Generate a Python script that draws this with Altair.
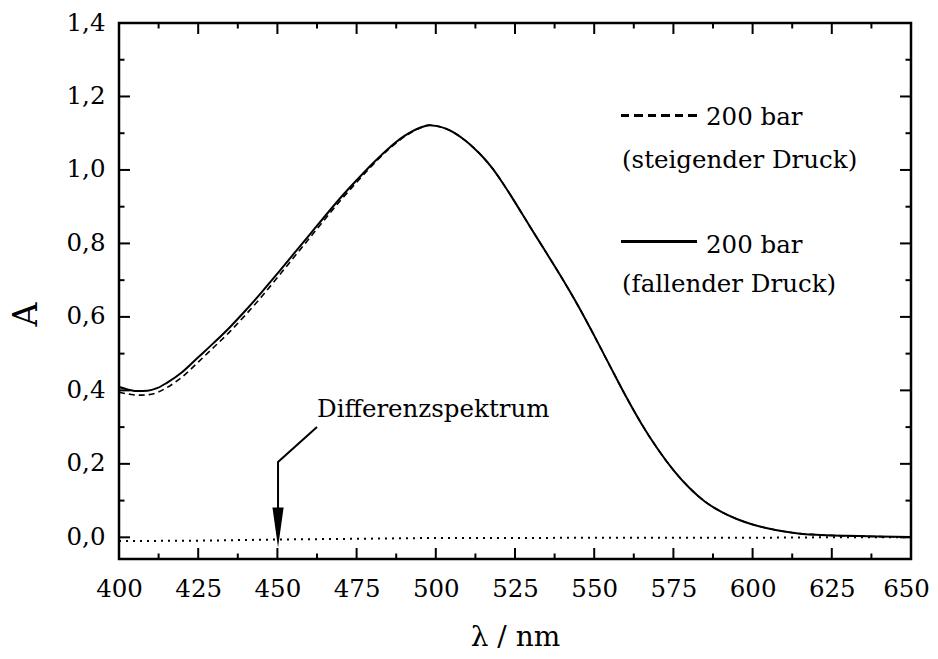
import altair as alt
import pandas as pd

# ---------------- data ----------------
lam_fall = [400, 403, 406, 409, 412, 415, 420, 425, 430, 435, 440, 445, 450, 455, 460, 465,
            470, 475, 480, 485, 490, 495, 498, 500, 503, 506, 509, 512, 515, 518, 521, 524,
            527, 530, 535, 540, 545, 550, 555, 560, 565, 570, 575, 580, 585, 590, 595, 600,
            605, 610, 615, 620, 630, 640, 650]
a_fall = [0.409, 0.402, 0.398, 0.399, 0.406, 0.420, 0.450, 0.490, 0.530, 0.572, 0.618, 0.667,
          0.718, 0.770, 0.822, 0.874, 0.925, 0.972, 1.017, 1.058, 1.092, 1.115, 1.122, 1.120,
          1.113, 1.100, 1.082, 1.060, 1.034, 1.003, 0.966, 0.926, 0.884, 0.842, 0.773, 0.703,
          0.629, 0.549, 0.466, 0.384, 0.308, 0.241, 0.183, 0.135, 0.097, 0.070, 0.050, 0.035,
          0.024, 0.016, 0.010, 0.007, 0.004, 0.002, 0.001]

lam_steig = lam_fall
a_steig = [0.395, 0.390, 0.387, 0.388, 0.394, 0.407, 0.437, 0.477, 0.518, 0.560, 0.606, 0.655,
           0.707, 0.760, 0.813, 0.866, 0.918, 0.966, 1.013, 1.055, 1.090, 1.114, 1.122, 1.120,
           1.113, 1.100, 1.082, 1.060, 1.034, 1.003, 0.966, 0.926, 0.884, 0.842, 0.773, 0.703,
           0.629, 0.549, 0.466, 0.384, 0.308, 0.241, 0.183, 0.135, 0.097, 0.070, 0.050, 0.035,
           0.024, 0.016, 0.010, 0.007, 0.004, 0.002, 0.001]

lam_diff = [400, 425, 450, 475, 500, 525, 550, 575, 600, 625, 650]
a_diff = [-0.010, -0.009, -0.006, -0.004, -0.002, -0.002, -0.001, -0.001, -0.001, 0.000, 0.000]

x_major = [400, 425, 450, 475, 500, 525, 550, 575, 600, 625, 650]
x_minor = [412.5, 437.5, 462.5, 487.5, 512.5, 537.5, 562.5, 587.5, 612.5, 637.5]
y_major = [0.0, 0.2, 0.4, 0.6, 0.8, 1.0, 1.2, 1.4]
y_minor = [0.1, 0.3, 0.5, 0.7, 0.9, 1.1, 1.3]

legend_top = ["200 bar", "(steigender Druck)"]
legend_bottom = ["200 bar", "(fallender Druck)"]

annot_text = "Differenzspektrum"
annot_lam = [462.5]
annot_a = [0.328]
arrow_lam = [462.5, 450.2, 450.2]
arrow_a = [0.300, 0.205, 0.050]
arrow_head_lam = [450.2]
arrow_head_a = [0.027]

# ---------------- layout ----------------
W, H = 792, 536
FONT = "DejaVu Serif"
MAJ, MIN = 11, 5.5
TXT = 24.5
LBL = 24.5

xs = alt.Scale(domain=[400, 650], nice=False, zero=False)
ys = alt.Scale(domain=[-0.059, 1.4], nice=False, zero=False)

x_axis = alt.Axis(values=x_major, title="λ / nm", domain=False, ticks=False, tickSize=0,
                  grid=False, labelFont=FONT, labelFontSize=LBL, labelColor="black",
                  labelPadding=37, labelBaseline="alphabetic", labelOverlap=False,
                  labelFlush=False, labelBound=False,
                  labelOffset=alt.condition("datum.value == 650", alt.value(-5), alt.value(0)),
                  titleFont=FONT, titleFontSize=28, titleFontWeight="normal",
                  titleColor="black", titleBaseline="alphabetic", titleY=86)
y_axis = alt.Axis(values=y_major, title="A", domain=False, ticks=False, tickSize=0,
                  grid=False, labelFont=FONT, labelFontSize=LBL, labelColor="black",
                  labelPadding=14, labelOverlap=False, labelFlush=False, labelBound=False,
                  labelExpr="replace(format(datum.value, '.1f'), '.', ',')",
                  titleFont=FONT, titleFontSize=33, titleFontWeight="normal",
                  titleColor="black", titleAngle=-90, titleBaseline="alphabetic",
                  titleX=-83, titleY=291, titleAlign="center")

X = alt.X("lam:Q", scale=xs, axis=x_axis)
Y = alt.Y("A:Q", scale=ys, axis=y_axis)

df_fall = pd.DataFrame({"lam": lam_fall, "A": a_fall})
df_steig = pd.DataFrame({"lam": lam_steig, "A": a_steig})
df_diff = pd.DataFrame({"lam": lam_diff, "A": a_diff})

solid = alt.Chart(df_fall).mark_line(color="black", strokeWidth=2,
                                     interpolate="monotone").encode(x=X, y=Y)
dashed = alt.Chart(df_steig).mark_line(color="black", strokeWidth=1.6, interpolate="monotone",
                                       strokeDash=[6, 4]).encode(x=X, y=Y)
dotted = alt.Chart(df_diff).mark_line(color="black", strokeWidth=2, interpolate="monotone",
                                      strokeDash=[2, 5]).encode(x=X, y=Y)

dfxM = pd.DataFrame({"lam": x_major})
dfxm = pd.DataFrame({"lam": x_minor})
dfyM = pd.DataFrame({"A": y_major})
dfym = pd.DataFrame({"A": y_minor})

tick = dict(color="black", strokeWidth=2)
ticks = [
    alt.Chart(dfxM).mark_rule(**tick).encode(x=X, y=alt.value(H), y2=alt.value(H - MAJ)),
    alt.Chart(dfxm).mark_rule(**tick).encode(x=X, y=alt.value(H), y2=alt.value(H - MIN)),
    alt.Chart(dfxM).mark_rule(**tick).encode(x=X, y=alt.value(0), y2=alt.value(MAJ)),
    alt.Chart(dfxm).mark_rule(**tick).encode(x=X, y=alt.value(0), y2=alt.value(MIN)),
    alt.Chart(dfyM).mark_rule(**tick).encode(y=Y, x=alt.value(0), x2=alt.value(MAJ)),
    alt.Chart(dfym).mark_rule(**tick).encode(y=Y, x=alt.value(0), x2=alt.value(MIN)),
    alt.Chart(dfyM).mark_rule(**tick).encode(y=Y, x=alt.value(W), x2=alt.value(W - MAJ)),
    alt.Chart(dfym).mark_rule(**tick).encode(y=Y, x=alt.value(W), x2=alt.value(W - MIN)),
]

df_arrow = pd.DataFrame({"lam": arrow_lam, "A": arrow_a, "i": [0, 1, 2]})
arrow = alt.Chart(df_arrow).mark_line(color="black", strokeWidth=2).encode(
    x=X, y=Y, order=alt.Order("i:Q"))
head = alt.Chart(pd.DataFrame({"lam": arrow_head_lam, "A": arrow_head_a})).mark_point(
    shape="M-0.28,-1L0.28,-1L0,1Z", filled=True, size=1600, color="black",
    opacity=1, strokeWidth=0).encode(x=X, y=Y)
annot = alt.Chart(pd.DataFrame({"lam": annot_lam, "A": annot_a, "t": [annot_text]})).mark_text(
    font=FONT, fontSize=TXT, align="left", baseline="alphabetic",
    color="black").encode(x=X, y=Y, text="t:N")

leg_dash = alt.Chart(df_fall).mark_rule(color="black", strokeWidth=1.6,
                                        strokeDash=[8, 5.5]).encode(
    x=alt.value(502), x2=alt.value(578), y=alt.value(92.5))
leg_solid = alt.Chart(df_fall).mark_rule(color="black", strokeWidth=2).encode(
    x=alt.value(502), x2=alt.value(578), y=alt.value(218.7))

def ltext(txt, x, y):
    return alt.Chart(pd.DataFrame({"t": [txt]})).mark_text(
        font=FONT, fontSize=TXT, align="left", baseline="alphabetic", color="black").encode(
        x=alt.value(x), y=alt.value(y), text="t:N")

leg_texts = [
    ltext(legend_top[0], 587, 102),
    ltext(legend_top[1], 503, 144.6),
    ltext(legend_bottom[0], 587, 229.5),
    ltext(legend_bottom[1], 503, 269),
]

chart = alt.layer(solid, dashed, dotted, *ticks, arrow, head, annot, leg_dash, leg_solid,
                  *leg_texts).properties(
    width=W, height=H,
    autosize=alt.AutoSizeParams(type="none"),
    padding={"left": 111, "top": 15, "right": 19, "bottom": 92},
).configure_view(stroke="black", strokeWidth=2.5)

chart.save("out.html", embed_options={"renderer": "svg", "actions": False})
